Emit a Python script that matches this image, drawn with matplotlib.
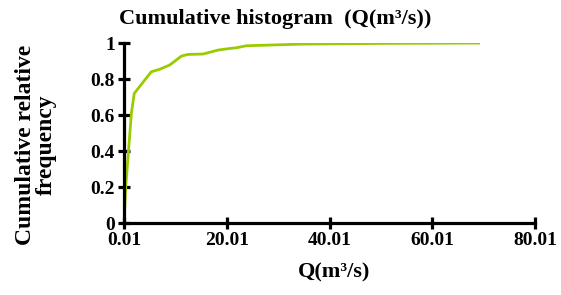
import matplotlib
matplotlib.use("Agg")
import matplotlib.pyplot as plt

q_values = [0.01, 0.35, 1.45, 2.0, 3.1, 5.3, 7.0, 8.9, 11.2, 12.5, 15.4, 18.3, 20.6, 21.9, 23.8, 34.2, 50.0, 69.0]
cum_freq = [0.0, 0.2, 0.61, 0.72, 0.76, 0.84, 0.855, 0.878, 0.928, 0.937, 0.939, 0.961, 0.97, 0.974, 0.985, 0.994, 0.998, 1.0]
x_ticks = [0.01, 20.01, 40.01, 60.01, 80.01]
y_ticks = [0, 0.2, 0.4, 0.6, 0.8, 1]
y_tick_labels = ["0", "0.2", "0.4", "0.6", "0.8", "1"]

plt.rcParams['font.family'] = ['Liberation Serif', 'DejaVu Serif']
plt.rcParams['font.weight'] = 'bold'

fig = plt.figure(figsize=(5.61, 2.95), dpi=100)
ax = fig.add_axes([0.221, 0.244, 0.733, 0.61])
ax.plot(q_values, cum_freq, color='#99cc00', lw=2)
ax.set_xlim(0.01, 80.01)
ax.set_ylim(0, 1)
ax.set_xticks(x_ticks)
ax.set_xticklabels([f"{v:.2f}" for v in x_ticks], fontsize=14, fontweight='bold')
ax.set_yticks(y_ticks)
ax.set_yticklabels(y_tick_labels, fontsize=14, fontweight='bold')
for s in ['top', 'right']:
    ax.spines[s].set_visible(False)
for s in ['left', 'bottom']:
    ax.spines[s].set_linewidth(2.3)
ax.tick_params(direction='inout', length=9, width=2.3, pad=2)
fig.text(0.595, 0.075, "Q(m³/s)", fontsize=16, fontweight='bold', ha='center', va='center')
fig.text(0.064, 0.51, "Cumulative relative\nfrequency", fontsize=17, fontweight='bold',
         rotation=90, ha='center', va='center', linespacing=0.95)
fig.text(0.49, 0.935, "Cumulative histogram  (Q(m³/s))", fontsize=16, fontweight='bold',
         ha='center', va='center')
fig.savefig("out.png", dpi=100)
